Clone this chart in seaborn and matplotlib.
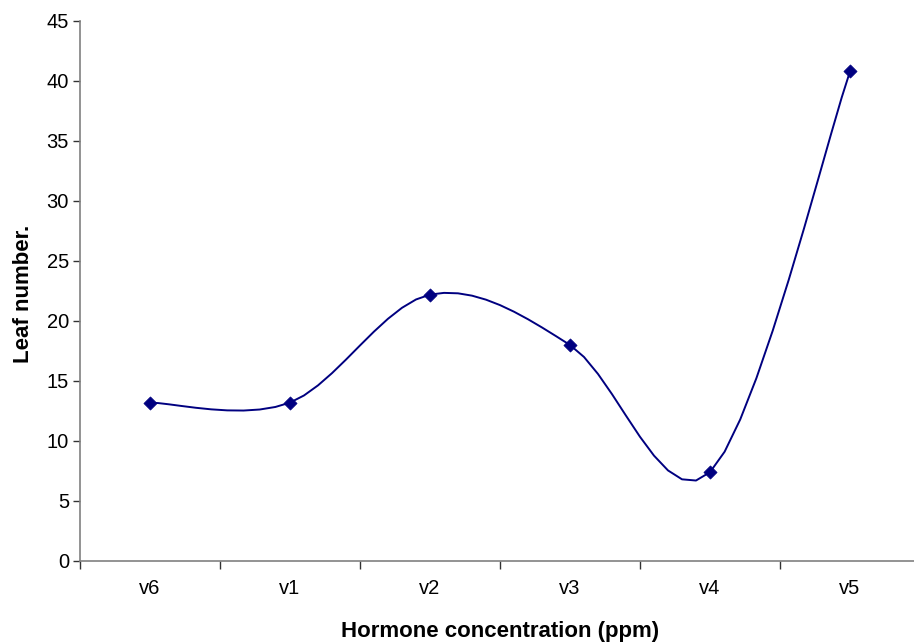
import numpy as np
import pandas as pd
import matplotlib
matplotlib.use("Agg")
import matplotlib.pyplot as plt
import seaborn as sns

categories = ["v6", "v1", "v2", "v3", "v4", "v5"]
leaf_number = [13.2, 13.2, 22.2, 18.0, 7.4, 40.8]
y_ticks = [0, 5, 10, 15, 20, 25, 30, 35, 40, 45]

sns.set_theme(style="white")
plt.rcParams["font.family"] = ["Liberation Sans", "DejaVu Sans"]
plt.rcParams["text.color"] = "black"

x = np.arange(len(categories), dtype=float)
y = np.array(leaf_number, dtype=float)


def smooth_curve(xs, ys, steps=10):
    """Piecewise cubic Bezier smoothing through every point (Catmull-Rom style)."""
    px = np.concatenate([[xs[0]], xs, [xs[-1]]])
    py = np.concatenate([[ys[0]], ys, [ys[-1]]])
    out_x, out_y = [], []
    t = np.linspace(0, 1, steps + 1)
    for i in range(1, len(px) - 2):
        p0 = np.array([px[i], py[i]])
        p3 = np.array([px[i + 1], py[i + 1]])
        c1 = p0 + (np.array([px[i + 1], py[i + 1]]) - np.array([px[i - 1], py[i - 1]])) / 6
        c2 = p3 - (np.array([px[i + 2], py[i + 2]]) - np.array([px[i], py[i]])) / 6
        tt = t if i == 1 else t[1:]
        for s in tt:
            b = ((1 - s) ** 3) * p0 + 3 * ((1 - s) ** 2) * s * c1 + 3 * (1 - s) * s ** 2 * c2 + s ** 3 * p3
            out_x.append(b[0])
            out_y.append(b[1])
    return np.array(out_x), np.array(out_y)


cx, cy = smooth_curve(x, y)
curve = pd.DataFrame({"pos": cx, "value": cy})
points = pd.DataFrame({"pos": x, "value": y})

W, H = 914, 643
fig = plt.figure(figsize=(W / 100, H / 100), dpi=100)
ax = fig.add_axes([80 / W, (H - 561) / H, 840 / W, 540 / H])

color = "#000080"
sns.lineplot(data=curve, x="pos", y="value", ax=ax, color=color, linewidth=1.4,
             sort=False, estimator=None)
sns.scatterplot(data=points, x="pos", y="value", ax=ax, color=color, marker="D",
                s=45, edgecolor=color, linewidth=0.5, zorder=3)

ax.set_xlim(-0.5, len(categories) - 0.5)
ax.set_ylim(0, 45)
ax.set_yticks(y_ticks)
ax.set_yticklabels([str(v) for v in y_ticks], fontsize=14.5, color="black")

# category labels sit between the boundary ticks
ax.set_xticks(np.arange(-0.5, len(categories), 1.0))
ax.set_xticklabels([])
ax.set_xticks(x, minor=True)
ax.set_xticklabels(categories, minor=True, fontsize=14.5, color="black")
ax.tick_params(axis="x", which="major", direction="out", length=6, width=1, color="#333333", bottom=True)
ax.tick_params(axis="x", which="minor", length=0, pad=13, labelcolor="black")
ax.tick_params(axis="y", direction="out", length=5, width=1, color="#333333", left=True, pad=3,
               labelcolor="black")

for side in ["top", "right"]:
    ax.spines[side].set_visible(False)
for side in ["left", "bottom"]:
    ax.spines[side].set_color("#808080")
    ax.spines[side].set_linewidth(1.2)

ax.grid(False)
ax.set_xlabel("")
ax.set_ylabel("")
fig.text(500 / W, 1 - 632 / H, "Hormone concentration (ppm)", ha="center", va="center",
         fontsize=16, fontweight="bold", color="black")
fig.text(24 / W, 1 - 294 / H, "Leaf number.", ha="center", va="center", rotation=90,
         fontsize=16, fontweight="bold", color="black")

fig.savefig("out.png", dpi=100, facecolor="white")
